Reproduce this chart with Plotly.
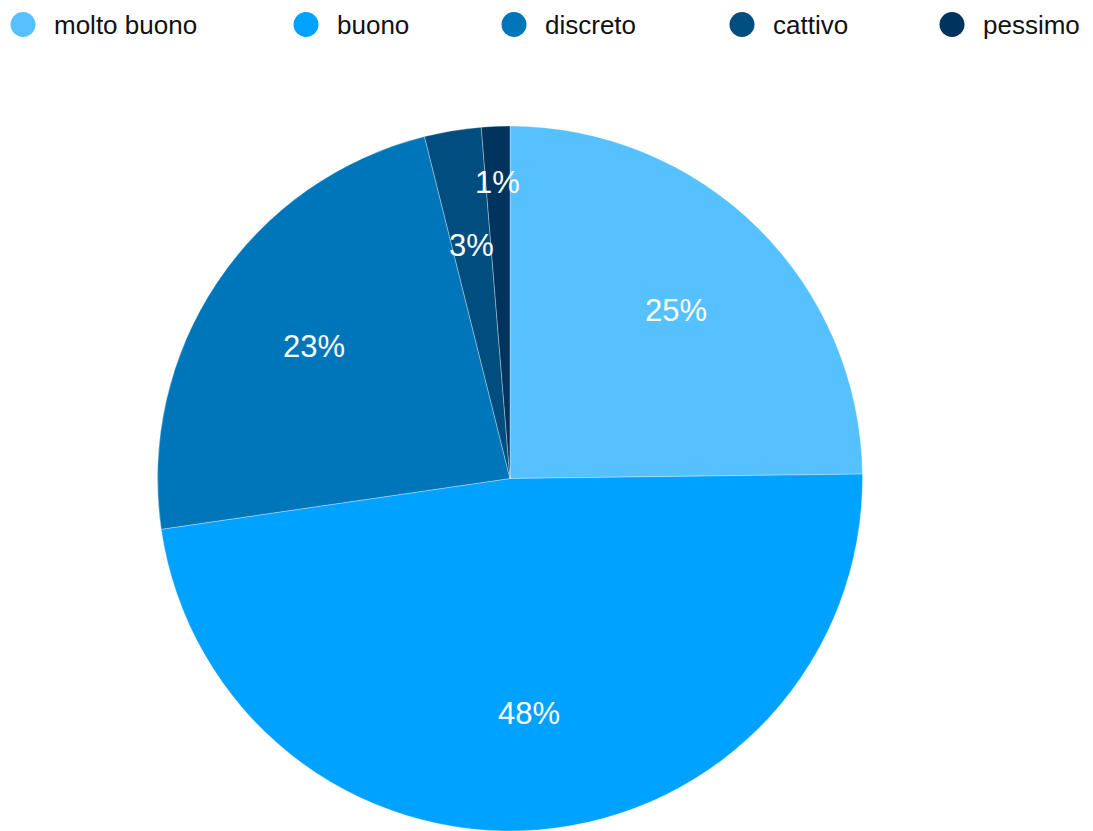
import numpy as np
import plotly.graph_objects as go

# Survey answers and their share of responses (%)
categories = ["molto buono", "buono", "discreto", "cattivo", "pessimo"]
shares = [24.8, 47.9, 23.4, 2.6, 1.3]
colors = ["#56C1FF", "#00A2FF", "#0076BA", "#004D80", "#00335E"]

# ---- layout (pixels) ----
W, H = 1093, 831
PIE_CX, PIE_CY, PIE_R = 510.0, 478.5, 352.5
LABEL_RADIUS = {"pessimo": 0.84}   # pushed outward to clear the neighbouring label
DEFAULT_LABEL_RADIUS = 0.67
LEGEND_X = [23, 306, 514, 742, 952]  # circle centres of the legend row
LEGEND_Y = 24.5
LEGEND_DOT = 25
FONT = "Liberation Sans, Arial, Helvetica, sans-serif"


def px_x(x):
    return x / W


def px_y(y):
    return 1 - y / H


fig = go.Figure(
    go.Pie(
        labels=categories,
        values=shares,
        sort=False,
        direction="clockwise",
        rotation=0,
        marker=dict(colors=colors, line=dict(color="rgba(255,255,255,0.55)", width=0.6)),
        textinfo="none",
        hoverinfo="label+percent",
        showlegend=False,
        domain=dict(
            x=[px_x(PIE_CX - PIE_R), px_x(PIE_CX + PIE_R)],
            y=[px_y(PIE_CY + PIE_R), px_y(PIE_CY - PIE_R)],
        ),
    )
)

# Percentage labels placed at each slice's mid-angle
vals = np.array(shares, dtype=float)
frac = vals / vals.sum()
mid = np.cumsum(frac) - frac / 2
annotations = []
for cat, f, m in zip(categories, frac, mid):
    ang = 2 * np.pi * m
    r = PIE_R * LABEL_RADIUS.get(cat, DEFAULT_LABEL_RADIUS)
    x = PIE_CX + r * np.sin(ang)
    y = PIE_CY - r * np.cos(ang)
    annotations.append(dict(
        x=px_x(x), y=px_y(y), xref="paper", yref="paper",
        text=f"{f * 100:.0f}%", showarrow=False,
        xanchor="center", yanchor="middle",
        font=dict(family=FONT, size=31, color="white"),
    ))

# Legend row: coloured dots with category names
shapes = []
for cat, col, cx in zip(categories, colors, LEGEND_X):
    rr = LEGEND_DOT / 2
    shapes.append(dict(
        type="circle", xref="paper", yref="paper",
        x0=px_x(cx - rr), x1=px_x(cx + rr),
        y0=px_y(LEGEND_Y + rr), y1=px_y(LEGEND_Y - rr),
        fillcolor=col, line=dict(width=0),
    ))
    annotations.append(dict(
        x=px_x(cx + 29), y=px_y(LEGEND_Y + 1), xref="paper", yref="paper",
        text=cat, showarrow=False, xanchor="left", yanchor="middle",
        font=dict(family=FONT, size=26, color="#111111"),
    ))

fig.update_layout(
    width=W, height=H, autosize=False,
    margin=dict(l=0, r=0, t=0, b=0),
    paper_bgcolor="white", plot_bgcolor="white",
    annotations=annotations, shapes=shapes,
)

fig.write_html("out.html", config={"displayModeBar": False})
